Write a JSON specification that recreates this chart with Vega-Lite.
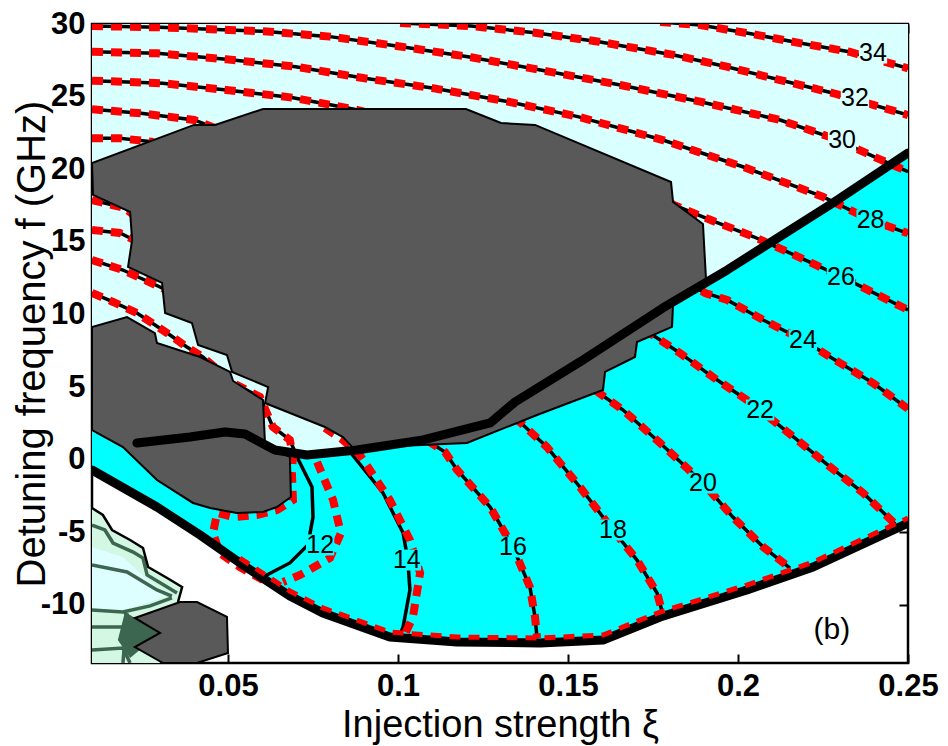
{
  "$schema": "https://vega.github.io/schema/vega-lite/v6.json",
  "width": 816,
  "height": 639,
  "autosize": "none",
  "padding": {"left": 92, "top": 24, "right": 40, "bottom": 83},
  "background": "white",
  "config": {"view": {"stroke": "black", "strokeWidth": 2.5}, "font": "Liberation Sans"},
  "datasets": {
    "polys": [
      {"id":"lc","i":0,"x":0.01,"y":30},{"id":"lc","i":1,"x":0.25,"y":30},{"id":"lc","i":2,"x":0.25,"y":-4.36},{"id":"lc","i":3,"x":0.2221,"y":-7.39},{"id":"lc","i":4,"x":0.2026,"y":-8.97},{"id":"lc","i":5,"x":0.1771,"y":-10.83},{"id":"lc","i":6,"x":0.1603,"y":-12.42},{"id":"lc","i":7,"x":0.1418,"y":-12.62},{"id":"lc","i":8,"x":0.1174,"y":-12.55},{"id":"lc","i":9,"x":0.0976,"y":-12.21},{"id":"lc","i":10,"x":0.0779,"y":-10.56},{"id":"lc","i":11,"x":0.0682,"y":-9.39},{"id":"lc","i":12,"x":0.0535,"y":-7.11},{"id":"lc","i":13,"x":0.0418,"y":-5.19},{"id":"lc","i":14,"x":0.0291,"y":-3.26},{"id":"lc","i":15,"x":0.01,"y":-0.71},
      {"id":"cy","i":0,"x":0.25,"y":21.12},{"id":"cy","i":1,"x":0.2279,"y":17.67},{"id":"cy","i":2,"x":0.1968,"y":13.06},{"id":"cy","i":3,"x":0.1779,"y":10.45},{"id":"cy","i":4,"x":0.1535,"y":6.73},{"id":"cy","i":5,"x":0.1344,"y":3.97},{"id":"cy","i":6,"x":0.1271,"y":2.53},{"id":"cy","i":7,"x":0.1074,"y":1.36},{"id":"cy","i":8,"x":0.0879,"y":0.67},{"id":"cy","i":9,"x":0.0732,"y":0.32},{"id":"cy","i":10,"x":0.0638,"y":0.67},{"id":"cy","i":11,"x":0.055,"y":1.77},{"id":"cy","i":12,"x":0.0491,"y":1.91},{"id":"cy","i":13,"x":0.0388,"y":1.56},{"id":"cy","i":14,"x":0.0232,"y":1.15},{"id":"cy","i":15,"x":0.01,"y":1.91},{"id":"cy","i":16,"x":0.01,"y":-0.71},{"id":"cy","i":17,"x":0.0291,"y":-3.26},{"id":"cy","i":18,"x":0.0418,"y":-5.19},{"id":"cy","i":19,"x":0.0535,"y":-7.11},{"id":"cy","i":20,"x":0.0682,"y":-9.39},{"id":"cy","i":21,"x":0.0779,"y":-10.56},{"id":"cy","i":22,"x":0.0976,"y":-12.21},{"id":"cy","i":23,"x":0.1174,"y":-12.55},{"id":"cy","i":24,"x":0.1418,"y":-12.62},{"id":"cy","i":25,"x":0.1603,"y":-12.42},{"id":"cy","i":26,"x":0.1771,"y":-10.83},{"id":"cy","i":27,"x":0.2026,"y":-8.97},{"id":"cy","i":28,"x":0.2221,"y":-7.39},{"id":"cy","i":29,"x":0.25,"y":-4.36},
      {"id":"mint","i":0,"x":0.01,"y":-3.33},{"id":"mint","i":1,"x":0.0132,"y":-3.81},{"id":"mint","i":2,"x":0.0159,"y":-4.84},{"id":"mint","i":3,"x":0.0212,"y":-5.53},{"id":"mint","i":4,"x":0.025,"y":-6.08},{"id":"mint","i":5,"x":0.0265,"y":-7.39},{"id":"mint","i":6,"x":0.0321,"y":-8.15},{"id":"mint","i":7,"x":0.0365,"y":-8.77},{"id":"mint","i":8,"x":0.0353,"y":-9.8},{"id":"mint","i":9,"x":0.0271,"y":-10.49},{"id":"mint","i":10,"x":0.03,"y":-14},{"id":"mint","i":11,"x":0.01,"y":-14},
      {"id":"minc","i":0,"x":0.01,"y":-6.01},{"id":"minc","i":1,"x":0.0191,"y":-6.7},{"id":"minc","i":2,"x":0.0241,"y":-7.8},{"id":"minc","i":3,"x":0.0291,"y":-8.77},{"id":"minc","i":4,"x":0.0335,"y":-9.25},{"id":"minc","i":5,"x":0.0262,"y":-9.87},{"id":"minc","i":6,"x":0.0191,"y":-10.35},{"id":"minc","i":7,"x":0.01,"y":-10.35},
      {"id":"dg","i":0,"x":0.0197,"y":-10.49},{"id":"dg","i":1,"x":0.03,"y":-11.93},{"id":"dg","i":2,"x":0.0212,"y":-13.66},{"id":"dg","i":3,"x":0.0176,"y":-12.42},
      {"id":"gs","i":0,"x":0.0226,"y":-10.9},{"id":"gs","i":1,"x":0.0359,"y":-9.8},{"id":"gs","i":2,"x":0.0409,"y":-9.8},{"id":"gs","i":3,"x":0.0497,"y":-10.83},{"id":"gs","i":4,"x":0.05,"y":-13.31},{"id":"gs","i":5,"x":0.0409,"y":-14},{"id":"gs","i":6,"x":0.0309,"y":-14},{"id":"gs","i":7,"x":0.0226,"y":-12.9},{"id":"gs","i":8,"x":0.03,"y":-11.93},
      {"id":"bb","i":0,"x":0.01,"y":20.43},{"id":"bb","i":1,"x":0.04,"y":23.05},{"id":"bb","i":2,"x":0.0462,"y":23.05},{"id":"bb","i":3,"x":0.0603,"y":24.15},{"id":"bb","i":4,"x":0.12,"y":24.15},{"id":"bb","i":5,"x":0.1303,"y":23.18},{"id":"bb","i":6,"x":0.1403,"y":23.05},{"id":"bb","i":7,"x":0.1803,"y":19.12},{"id":"bb","i":8,"x":0.1809,"y":17.74},{"id":"bb","i":9,"x":0.1897,"y":16.23},{"id":"bb","i":10,"x":0.1906,"y":12.37},{"id":"bb","i":11,"x":0.1809,"y":10.79},{"id":"bb","i":12,"x":0.1806,"y":9.14},{"id":"bb","i":13,"x":0.1703,"y":8.1},{"id":"bb","i":14,"x":0.1697,"y":7.07},{"id":"bb","i":15,"x":0.1609,"y":6.04},{"id":"bb","i":16,"x":0.1603,"y":4.8},{"id":"bb","i":17,"x":0.1409,"y":3.08},{"id":"bb","i":18,"x":0.1203,"y":1.15},{"id":"bb","i":19,"x":0.0868,"y":0.8},{"id":"bb","i":20,"x":0.0838,"y":1.56},{"id":"bb","i":21,"x":0.0785,"y":2.25},{"id":"bb","i":22,"x":0.0609,"y":3.9},{"id":"bb","i":23,"x":0.0618,"y":5.0},{"id":"bb","i":24,"x":0.0512,"y":6.04},{"id":"bb","i":25,"x":0.0497,"y":7.21},{"id":"bb","i":26,"x":0.0412,"y":7.9},{"id":"bb","i":27,"x":0.0394,"y":9.41},{"id":"bb","i":28,"x":0.0315,"y":10.1},{"id":"bb","i":29,"x":0.0306,"y":12.17},{"id":"bb","i":30,"x":0.0206,"y":13.27},{"id":"bb","i":31,"x":0.0218,"y":15.13},{"id":"bb","i":32,"x":0.0212,"y":17.06},{"id":"bb","i":33,"x":0.0103,"y":18.23},
      {"id":"lb","i":0,"x":0.01,"y":9.14},{"id":"lb","i":1,"x":0.0203,"y":9.82},{"id":"lb","i":2,"x":0.0285,"y":8.72},{"id":"lb","i":3,"x":0.0291,"y":8.03},{"id":"lb","i":4,"x":0.0418,"y":7.07},{"id":"lb","i":5,"x":0.0506,"y":6.04},{"id":"lb","i":6,"x":0.0515,"y":5.42},{"id":"lb","i":7,"x":0.0603,"y":4.11},{"id":"lb","i":8,"x":0.0609,"y":1.01},{"id":"lb","i":9,"x":0.0682,"y":0.19},{"id":"lb","i":10,"x":0.0685,"y":-2.57},{"id":"lb","i":11,"x":0.0644,"y":-3.26},{"id":"lb","i":12,"x":0.0603,"y":-3.6},{"id":"lb","i":13,"x":0.0526,"y":-3.67},{"id":"lb","i":14,"x":0.0447,"y":-3.33},{"id":"lb","i":15,"x":0.0397,"y":-2.98},{"id":"lb","i":16,"x":0.0291,"y":-1.4},{"id":"lb","i":17,"x":0.0191,"y":0.87},{"id":"lb","i":18,"x":0.01,"y":2.04}
    ],
    "lines": [
      {"id":"thick","i":0,"x":0.0232,"y":1.15},{"id":"thick","i":1,"x":0.0388,"y":1.56},{"id":"thick","i":2,"x":0.0491,"y":1.91},{"id":"thick","i":3,"x":0.055,"y":1.77},{"id":"thick","i":4,"x":0.0638,"y":0.67},{"id":"thick","i":5,"x":0.0732,"y":0.32},{"id":"thick","i":6,"x":0.0879,"y":0.67},{"id":"thick","i":7,"x":0.1074,"y":1.36},{"id":"thick","i":8,"x":0.1271,"y":2.53},{"id":"thick","i":9,"x":0.1344,"y":3.97},{"id":"thick","i":10,"x":0.1535,"y":6.73},{"id":"thick","i":11,"x":0.1779,"y":10.45},{"id":"thick","i":12,"x":0.1968,"y":13.06},{"id":"thick","i":13,"x":0.2279,"y":17.67},{"id":"thick","i":14,"x":0.25,"y":21.12},
      {"id":"low","i":0,"x":0.01,"y":-0.71},{"id":"low","i":1,"x":0.0291,"y":-3.26},{"id":"low","i":2,"x":0.0418,"y":-5.19},{"id":"low","i":3,"x":0.0535,"y":-7.11},{"id":"low","i":4,"x":0.0682,"y":-9.39},{"id":"low","i":5,"x":0.0779,"y":-10.56},{"id":"low","i":6,"x":0.0976,"y":-12.21},{"id":"low","i":7,"x":0.1174,"y":-12.55},{"id":"low","i":8,"x":0.1418,"y":-12.62},{"id":"low","i":9,"x":0.1603,"y":-12.42},{"id":"low","i":10,"x":0.1771,"y":-10.83},{"id":"low","i":11,"x":0.2026,"y":-8.97},{"id":"low","i":12,"x":0.2221,"y":-7.39},{"id":"low","i":13,"x":0.25,"y":-4.36},
      {"id":"lowr","i":0,"x":0.0535,"y":-6.77},{"id":"lowr","i":1,"x":0.0682,"y":-9.04},{"id":"lowr","i":2,"x":0.0779,"y":-10.21},{"id":"lowr","i":3,"x":0.0976,"y":-11.87},{"id":"lowr","i":4,"x":0.1174,"y":-12.21},{"id":"lowr","i":5,"x":0.1418,"y":-12.28},{"id":"lowr","i":6,"x":0.1603,"y":-12.07},{"id":"lowr","i":7,"x":0.1771,"y":-10.49},{"id":"lowr","i":8,"x":0.2026,"y":-8.63},{"id":"lowr","i":9,"x":0.2221,"y":-7.05},{"id":"lowr","i":10,"x":0.25,"y":-4.02},
      {"id":"mo","i":0,"x":0.01,"y":-3.33},{"id":"mo","i":1,"x":0.0132,"y":-3.81},{"id":"mo","i":2,"x":0.0159,"y":-4.84},{"id":"mo","i":3,"x":0.0212,"y":-5.53},{"id":"mo","i":4,"x":0.025,"y":-6.08},{"id":"mo","i":5,"x":0.0265,"y":-7.39},{"id":"mo","i":6,"x":0.0321,"y":-8.15},{"id":"mo","i":7,"x":0.0365,"y":-8.77},{"id":"mo","i":8,"x":0.0353,"y":-9.8},
      {"id":"g1","i":0,"x":0.01,"y":-4.5},{"id":"g1","i":1,"x":0.0138,"y":-4.84},{"id":"g1","i":2,"x":0.0162,"y":-5.74},{"id":"g1","i":3,"x":0.0221,"y":-6.36},{"id":"g1","i":4,"x":0.025,"y":-6.77},{"id":"g1","i":5,"x":0.0262,"y":-7.94},{"id":"g1","i":6,"x":0.0321,"y":-8.77},{"id":"g1","i":7,"x":0.035,"y":-9.18},
      {"id":"g2","i":0,"x":0.01,"y":-7.25},{"id":"g2","i":1,"x":0.0203,"y":-7.73},{"id":"g2","i":2,"x":0.0291,"y":-8.97},{"id":"g2","i":3,"x":0.0335,"y":-9.4},
      {"id":"g3","i":0,"x":0.01,"y":-10.35},{"id":"g3","i":1,"x":0.0191,"y":-10.49},{"id":"g3","i":2,"x":0.0271,"y":-10.07},{"id":"g3","i":3,"x":0.0335,"y":-9.52},
      {"id":"g4","i":0,"x":0.01,"y":-11.52},{"id":"g4","i":1,"x":0.0212,"y":-11.52},{"id":"g4","i":2,"x":0.0197,"y":-10.49},
      {"id":"g5","i":0,"x":0.01,"y":-13.11},{"id":"g5","i":1,"x":0.0191,"y":-12.97},{"id":"g5","i":2,"x":0.0212,"y":-14},
      {"id":"g6","i":0,"x":0.0203,"y":-10.56},{"id":"g6","i":1,"x":0.0191,"y":-14}
    ],
    "contours": [
      {"id":"c34","i":0,"x":0.1771,"y":30.14},{"id":"c34","i":1,"x":0.1889,"y":29.93},{"id":"c34","i":2,"x":0.203,"y":29.36},{"id":"c34","i":3,"x":0.2186,"y":28.67},{"id":"c34","i":4,"x":0.2327,"y":28.09},{"id":"c34","i":5,"x":0.25,"y":26.95},
      {"id":"c32","i":0,"x":0.1006,"y":30.07},{"id":"c32","i":1,"x":0.1215,"y":29.86},{"id":"c32","i":2,"x":0.1403,"y":29.4},{"id":"c32","i":3,"x":0.1591,"y":28.78},{"id":"c32","i":4,"x":0.1811,"y":27.87},{"id":"c32","i":5,"x":0.1967,"y":27.06},{"id":"c32","i":6,"x":0.2124,"y":26.14},{"id":"c32","i":7,"x":0.2281,"y":25.23},{"id":"c32","i":8,"x":0.25,"y":23.73},
      {"id":"c30","i":0,"x":0.01,"y":29.86},{"id":"c30","i":1,"x":0.0299,"y":29.77},{"id":"c30","i":2,"x":0.0503,"y":29.59},{"id":"c30","i":3,"x":0.0604,"y":29.5},{"id":"c30","i":4,"x":0.08,"y":29.13},{"id":"c30","i":5,"x":0.0996,"y":28.49},{"id":"c30","i":6,"x":0.1215,"y":27.71},{"id":"c30","i":7,"x":0.1419,"y":26.83},{"id":"c30","i":8,"x":0.1654,"y":25.8},{"id":"c30","i":9,"x":0.1889,"y":24.65},{"id":"c30","i":10,"x":0.2124,"y":23.39},{"id":"c30","i":11,"x":0.2281,"y":22.13},{"id":"c30","i":12,"x":0.2421,"y":20.64},{"id":"c30","i":13,"x":0.25,"y":19.83},
      {"id":"c28","i":0,"x":0.01,"y":28.09},{"id":"c28","i":1,"x":0.0291,"y":27.98},{"id":"c28","i":2,"x":0.0495,"y":27.57},{"id":"c28","i":3,"x":0.0699,"y":27.06},{"id":"c28","i":4,"x":0.0902,"y":26.26},{"id":"c28","i":5,"x":0.1106,"y":25.57},{"id":"c28","i":6,"x":0.1325,"y":24.65},{"id":"c28","i":7,"x":0.1529,"y":23.62},{"id":"c28","i":8,"x":0.1779,"y":22.01},{"id":"c28","i":9,"x":0.2014,"y":20.17},{"id":"c28","i":10,"x":0.2249,"y":18.11},{"id":"c28","i":11,"x":0.239,"y":16.5},{"id":"c28","i":12,"x":0.25,"y":15.59},
      {"id":"c26a","i":0,"x":0.01,"y":26.1},{"id":"c26a","i":1,"x":0.0307,"y":25.92},{"id":"c26a","i":2,"x":0.0495,"y":25.46},{"id":"c26a","i":3,"x":0.0683,"y":24.95},{"id":"c26a","i":4,"x":0.0871,"y":24.13},{"id":"c26a","i":5,"x":0.0976,"y":23.53},
      {"id":"c26b","i":0,"x":0.1756,"y":18.43},{"id":"c26b","i":1,"x":0.1811,"y":17.54},{"id":"c26b","i":2,"x":0.192,"y":16.5},{"id":"c26b","i":3,"x":0.2046,"y":15.35},{"id":"c26b","i":4,"x":0.2155,"y":14.21},{"id":"c26b","i":5,"x":0.2304,"y":12.6},{"id":"c26b","i":6,"x":0.25,"y":10.31},
      {"id":"c24a","i":0,"x":0.01,"y":24.13},{"id":"c24a","i":1,"x":0.0244,"y":23.85},{"id":"c24a","i":2,"x":0.0401,"y":23.39},{"id":"c24a","i":3,"x":0.0491,"y":22.56},
      {"id":"c24b","i":0,"x":0.1844,"y":12.24},{"id":"c24b","i":1,"x":0.1905,"y":11.46},{"id":"c24b","i":2,"x":0.1968,"y":11.0},{"id":"c24b","i":3,"x":0.2074,"y":9.62},{"id":"c24b","i":4,"x":0.2191,"y":8.24},{"id":"c24b","i":5,"x":0.2271,"y":7.07},{"id":"c24b","i":6,"x":0.2397,"y":5.28},{"id":"c24b","i":7,"x":0.25,"y":3.5},
      {"id":"c22a","i":0,"x":0.01,"y":22.13},{"id":"c22a","i":1,"x":0.0181,"y":22.13},{"id":"c22a","i":2,"x":0.0275,"y":21.9},{"id":"c22a","i":3,"x":0.0315,"y":21.46},
      {"id":"c22b","i":0,"x":0.1726,"y":8.93},{"id":"c22b","i":1,"x":0.1771,"y":8.24},{"id":"c22b","i":2,"x":0.1829,"y":7.35},{"id":"c22b","i":3,"x":0.1926,"y":5.69},{"id":"c22b","i":4,"x":0.2026,"y":4.11},{"id":"c22b","i":5,"x":0.2065,"y":3.42},{"id":"c22b","i":6,"x":0.2174,"y":1.36},{"id":"c22b","i":7,"x":0.2271,"y":-0.5},{"id":"c22b","i":8,"x":0.2368,"y":-2.29},{"id":"c22b","i":9,"x":0.2462,"y":-4.43},
      {"id":"c20","i":0,"x":0.1535,"y":5.49},{"id":"c20","i":1,"x":0.1579,"y":4.8},{"id":"c20","i":2,"x":0.1662,"y":3.42},{"id":"c20","i":3,"x":0.1771,"y":1.15},{"id":"c20","i":4,"x":0.1897,"y":-1.61},{"id":"c20","i":5,"x":0.1985,"y":-3.95},{"id":"c20","i":6,"x":0.2074,"y":-6.01},{"id":"c20","i":7,"x":0.2153,"y":-7.46},
      {"id":"c18","i":0,"x":0.1344,"y":2.87},{"id":"c18","i":1,"x":0.1368,"y":2.39},{"id":"c18","i":2,"x":0.1438,"y":0.87},{"id":"c18","i":3,"x":0.1535,"y":-1.88},{"id":"c18","i":4,"x":0.1632,"y":-4.84},{"id":"c18","i":5,"x":0.1703,"y":-6.91},{"id":"c18","i":6,"x":0.1762,"y":-9.18},{"id":"c18","i":7,"x":0.1782,"y":-10.9},
      {"id":"c16","i":0,"x":0.1088,"y":1.29},{"id":"c16","i":1,"x":0.1138,"y":0.53},{"id":"c16","i":2,"x":0.1174,"y":-0.71},{"id":"c16","i":3,"x":0.1271,"y":-3.26},{"id":"c16","i":4,"x":0.1338,"y":-6.01},{"id":"c16","i":5,"x":0.1388,"y":-8.77},{"id":"c16","i":6,"x":0.1403,"y":-10.83},{"id":"c16","i":7,"x":0.1409,"y":-12.28},
      {"id":"c14k","i":0,"x":0.0859,"y":0.53},{"id":"c14k","i":1,"x":0.0956,"y":-2.29},{"id":"c14k","i":2,"x":0.1015,"y":-5.05},{"id":"c14k","i":3,"x":0.1029,"y":-6.91},{"id":"c14k","i":4,"x":0.1035,"y":-8.97},{"id":"c14k","i":5,"x":0.1015,"y":-11.52},{"id":"c14k","i":6,"x":0.1,"y":-12.42},
      {"id":"c14r","i":0,"x":0.0785,"y":2.18},{"id":"c14r","i":1,"x":0.0838,"y":1.36},{"id":"c14r","i":2,"x":0.0888,"y":0.32},{"id":"c14r","i":3,"x":0.0976,"y":-2.78},{"id":"c14r","i":4,"x":0.1035,"y":-5.53},{"id":"c14r","i":5,"x":0.1065,"y":-7.8},{"id":"c14r","i":6,"x":0.1044,"y":-10.83},{"id":"c14r","i":7,"x":0.1015,"y":-12.28},
      {"id":"c12k","i":0,"x":0.01,"y":11.48},{"id":"c12k","i":1,"x":0.0162,"y":10.86},{"id":"c12k","i":2,"x":0.0232,"y":10.1},{"id":"c12k","i":3,"x":0.0321,"y":8.72},{"id":"c12k","i":4,"x":0.0379,"y":7.76},{"id":"c12k","i":5,"x":0.0426,"y":7.07},{"id":"c12k","i":6,"x":0.0515,"y":5.28},{"id":"c12k","i":7,"x":0.0594,"y":4.32},{"id":"c12k","i":8,"x":0.0632,"y":2.25},{"id":"c12k","i":9,"x":0.0682,"y":1.36},{"id":"c12k","i":10,"x":0.0703,"y":0.19},{"id":"c12k","i":11,"x":0.0747,"y":-1.88},{"id":"c12k","i":12,"x":0.075,"y":-3.95},{"id":"c12k","i":13,"x":0.0735,"y":-5.87},{"id":"c12k","i":14,"x":0.0682,"y":-7.11},{"id":"c12k","i":15,"x":0.0603,"y":-8.08},
      {"id":"c12ra","i":0,"x":0.01,"y":11.48},{"id":"c12ra","i":1,"x":0.0162,"y":10.86},{"id":"c12ra","i":2,"x":0.0232,"y":10.1},{"id":"c12ra","i":3,"x":0.0321,"y":8.72},{"id":"c12ra","i":4,"x":0.0379,"y":7.76},{"id":"c12ra","i":5,"x":0.0426,"y":7.07},{"id":"c12ra","i":6,"x":0.0515,"y":5.28},{"id":"c12ra","i":7,"x":0.0594,"y":4.32},{"id":"c12ra","i":8,"x":0.0632,"y":2.25},{"id":"c12ra","i":9,"x":0.0682,"y":1.36},{"id":"c12ra","i":10,"x":0.0691,"y":0.19},{"id":"c12ra","i":11,"x":0.0688,"y":-0.92},{"id":"c12ra","i":12,"x":0.0691,"y":-2.78},{"id":"c12ra","i":13,"x":0.0644,"y":-3.47},{"id":"c12ra","i":14,"x":0.0585,"y":-3.81},{"id":"c12ra","i":15,"x":0.0515,"y":-3.95},{"id":"c12ra","i":16,"x":0.0468,"y":-3.67},{"id":"c12ra","i":17,"x":0.0456,"y":-5.05},{"id":"c12ra","i":18,"x":0.0476,"y":-6.43},{"id":"c12ra","i":19,"x":0.0535,"y":-7.39},{"id":"c12ra","i":20,"x":0.0603,"y":-8.29},
      {"id":"c12rb","i":0,"x":0.0762,"y":-0.16},{"id":"c12rb","i":1,"x":0.0809,"y":-2.78},{"id":"c12rb","i":2,"x":0.0832,"y":-5.05},{"id":"c12rb","i":3,"x":0.08,"y":-6.77},{"id":"c12rb","i":4,"x":0.0712,"y":-7.94},{"id":"c12rb","i":5,"x":0.0662,"y":-8.42},
      {"id":"p18","i":0,"x":0.01,"y":17.88},{"id":"p18","i":1,"x":0.0197,"y":17.33},{"id":"p18","i":2,"x":0.0218,"y":16.92},
      {"id":"p16","i":0,"x":0.01,"y":15.82},{"id":"p16","i":1,"x":0.0182,"y":15.61},{"id":"p16","i":2,"x":0.0224,"y":15.13},
      {"id":"p14","i":0,"x":0.01,"y":13.75},{"id":"p14","i":1,"x":0.0191,"y":13.06},{"id":"p14","i":2,"x":0.03,"y":11.89},{"id":"p14","i":3,"x":0.0329,"y":11.55}
    ],
    "labels": [
      {"t":"12","x":0.0771,"y":-5.87},{"t":"14","x":0.1026,"y":-6.91},{"t":"16","x":0.1338,"y":-6.01},{"t":"18","x":0.1632,"y":-4.84},{"t":"20","x":0.1897,"y":-1.61},{"t":"22","x":0.2065,"y":3.42},{"t":"24","x":0.2191,"y":8.24},{"t":"26","x":0.2303,"y":12.58},{"t":"28","x":0.239,"y":16.5},{"t":"30","x":0.2306,"y":22.01},{"t":"32","x":0.2344,"y":24.91},{"t":"34","x":0.2397,"y":28.0}
    ]
  },
  "resolve": {"axis": {"x": "independent", "y": "independent"}},
  "layer": [
    {
      "data": {"name": "polys"},
      "transform": [{"filter": {"field": "id", "equal": "lc"}}],
      "mark": {"type": "line", "interpolate": "linear-closed", "fill": "#D9FFFF", "strokeWidth": 0, "clip": true},
      "encoding": {
        "x": {"field": "x", "type": "quantitative", "scale": {"domain": [0.01, 0.25], "nice": false, "zero": false},
          "axis": {"orient": "bottom", "values": [0.05, 0.1, 0.15, 0.2, 0.25], "labelExpr": "'' + datum.value", "labelFontSize": 31, "labelFontWeight": "bold", "labelColor": "black", "labelFont": "Liberation Sans", "labelFlush": false, "labelPadding": 17, "tickSize": -9, "tickWidth": 2, "tickColor": "black", "domain": false, "grid": false, "title": "Injection strength ξ", "titleFontSize": 38, "titleFontWeight": "normal", "titleFont": "Liberation Sans", "titleColor": "black", "titleY": 73, "titleBaseline": "alphabetic"}},
        "y": {"field": "y", "type": "quantitative", "scale": {"domain": [-14, 30], "nice": false, "zero": false},
          "axis": {"orient": "left", "values": [-10, -5, 0, 5, 10, 15, 20, 25, 30], "labelExpr": "'' + datum.value", "labelFontSize": 31, "labelFontWeight": "bold", "labelColor": "black", "labelFont": "Liberation Sans", "labelFlush": false, "labelPadding": 16, "tickSize": -9, "tickWidth": 2, "tickColor": "black", "domain": false, "grid": false, "title": "Detuning frequency f (GHz)", "titleFontSize": 40, "titleFontWeight": "normal", "titleFont": "Liberation Sans", "titleColor": "black", "titleX": -48, "titleBaseline": "alphabetic"}},
        "order": {"field": "i"},
        "detail": {"field": "id"}
      }
    },
    {
      "data": {"name": "polys"},
      "transform": [{"filter": {"field": "id", "equal": "cy"}}],
      "mark": {"type": "line", "interpolate": "linear-closed", "fill": "#00FFFF", "strokeWidth": 0, "clip": true},
      "encoding": {
        "x": {"field": "x", "type": "quantitative", "axis": {"orient": "top", "values": [0.05, 0.1, 0.15, 0.2, 0.25], "labels": false, "tickSize": -9, "tickWidth": 2, "tickColor": "black", "domain": false, "grid": false, "title": null}},
        "y": {"field": "y", "type": "quantitative", "axis": {"orient": "right", "values": [-10, -5, 0, 5, 10, 15, 20, 25, 30], "labels": false, "tickSize": -9, "tickWidth": 2, "tickColor": "black", "domain": false, "grid": false, "title": null}},
        "order": {"field": "i"},
        "detail": {"field": "id"}
      }
    },
    {
      "data": {"name": "polys"},
      "transform": [{"filter": {"field": "id", "equal": "mint"}}],
      "mark": {"type": "line", "interpolate": "linear-closed", "fill": "#D2F7E2", "strokeWidth": 0, "clip": true},
      "encoding": {"x": {"field": "x", "type": "quantitative", "axis": null}, "y": {"field": "y", "type": "quantitative", "axis": null}, "order": {"field": "i"}, "detail": {"field": "id"}}
    },
    {
      "data": {"name": "polys"},
      "transform": [{"filter": {"field": "id", "equal": "minc"}}],
      "mark": {"type": "line", "interpolate": "linear-closed", "fill": "#DDFFFF", "strokeWidth": 0, "clip": true},
      "encoding": {"x": {"field": "x", "type": "quantitative", "axis": null}, "y": {"field": "y", "type": "quantitative", "axis": null}, "order": {"field": "i"}, "detail": {"field": "id"}}
    },
    {
      "data": {"name": "polys"},
      "transform": [{"filter": {"field": "id", "equal": "dg"}}],
      "mark": {"type": "line", "interpolate": "linear-closed", "fill": "#3D6650", "strokeWidth": 0, "clip": true},
      "encoding": {"x": {"field": "x", "type": "quantitative", "axis": null}, "y": {"field": "y", "type": "quantitative", "axis": null}, "order": {"field": "i"}, "detail": {"field": "id"}}
    },
    {
      "data": {"name": "lines"},
      "transform": [{"filter": {"field": "id", "oneOf": ["g1", "g2", "g3", "g4", "g5", "g6"]}}],
      "mark": {"type": "line", "color": "#3D6650", "strokeWidth": 3.5, "clip": true},
      "encoding": {"x": {"field": "x", "type": "quantitative", "axis": null}, "y": {"field": "y", "type": "quantitative", "axis": null}, "order": {"field": "i"}, "detail": {"field": "id"}}
    },
    {
      "data": {"name": "lines"},
      "transform": [{"filter": {"field": "id", "equal": "mo"}}],
      "mark": {"type": "line", "color": "black", "strokeWidth": 2.5, "clip": true},
      "encoding": {"x": {"field": "x", "type": "quantitative", "axis": null}, "y": {"field": "y", "type": "quantitative", "axis": null}, "order": {"field": "i"}, "detail": {"field": "id"}}
    },
    {
      "data": {"name": "contours"},
      "transform": [{"filter": {"not": {"field": "id", "oneOf": ["c14r", "c12ra", "c12rb"]}}}],
      "mark": {"type": "line", "color": "black", "strokeWidth": 3.5, "clip": true},
      "encoding": {"x": {"field": "x", "type": "quantitative", "axis": null}, "y": {"field": "y", "type": "quantitative", "axis": null}, "order": {"field": "i"}, "detail": {"field": "id"}}
    },
    {
      "data": {"name": "contours"},
      "transform": [{"filter": {"not": {"field": "id", "oneOf": ["c14k", "c12k"]}}}],
      "mark": {"type": "line", "color": "#FF0000", "strokeWidth": 8, "strokeDash": [11, 8], "clip": true},
      "encoding": {"x": {"field": "x", "type": "quantitative", "axis": null}, "y": {"field": "y", "type": "quantitative", "axis": null}, "order": {"field": "i"}, "detail": {"field": "id"}}
    },
    {
      "data": {"name": "polys"},
      "transform": [{"filter": {"field": "id", "oneOf": ["bb", "lb", "gs"]}}],
      "mark": {"type": "line", "interpolate": "linear-closed", "fill": "#595959", "color": "black", "strokeWidth": 2, "clip": true},
      "encoding": {"x": {"field": "x", "type": "quantitative", "axis": null}, "y": {"field": "y", "type": "quantitative", "axis": null}, "order": {"field": "i"}, "detail": {"field": "id"}}
    },
    {
      "data": {"name": "lines"},
      "transform": [{"filter": {"field": "id", "oneOf": ["thick", "low"]}}],
      "mark": {"type": "line", "color": "black", "strokeWidth": 9, "strokeCap": "round", "strokeJoin": "round", "clip": true},
      "encoding": {"x": {"field": "x", "type": "quantitative", "axis": null}, "y": {"field": "y", "type": "quantitative", "axis": null}, "order": {"field": "i"}, "detail": {"field": "id"}}
    },
    {
      "data": {"name": "lines"},
      "transform": [{"filter": {"field": "id", "equal": "lowr"}}],
      "mark": {"type": "line", "color": "#FF0000", "strokeWidth": 5, "strokeDash": [11, 8], "clip": true},
      "encoding": {"x": {"field": "x", "type": "quantitative", "axis": null}, "y": {"field": "y", "type": "quantitative", "axis": null}, "order": {"field": "i"}, "detail": {"field": "id"}}
    },
    {
      "data": {"name": "labels"},
      "transform": [{"filter": {"field": "t", "oneOf": ["30", "32", "34"]}}],
      "mark": {"type": "point", "shape": "M-1.35,-1L1.35,-1L1.35,1L-1.35,1Z", "size": 440, "filled": true, "opacity": 1, "color": "#D9FFFF", "strokeWidth": 0},
      "encoding": {"x": {"field": "x", "type": "quantitative", "axis": null}, "y": {"field": "y", "type": "quantitative", "axis": null}}
    },
    {
      "data": {"name": "labels"},
      "transform": [{"filter": {"not": {"field": "t", "oneOf": ["30", "32", "34"]}}}],
      "mark": {"type": "point", "shape": "M-1.35,-1L1.35,-1L1.35,1L-1.35,1Z", "size": 440, "filled": true, "opacity": 1, "color": "#00FFFF", "strokeWidth": 0},
      "encoding": {"x": {"field": "x", "type": "quantitative", "axis": null}, "y": {"field": "y", "type": "quantitative", "axis": null}}
    },
    {
      "data": {"name": "labels"},
      "mark": {"type": "text", "fontSize": 25, "font": "Liberation Sans", "color": "black", "align": "center", "baseline": "middle"},
      "encoding": {"x": {"field": "x", "type": "quantitative", "axis": null}, "y": {"field": "y", "type": "quantitative", "axis": null}, "text": {"field": "t"}}
    },
    {
      "data": {"values": [{"t": "(b)", "x": 0.2276, "y": -11.73}]},
      "mark": {"type": "text", "fontSize": 30, "font": "Liberation Sans", "color": "black", "align": "center", "baseline": "middle"},
      "encoding": {"x": {"field": "x", "type": "quantitative", "axis": null}, "y": {"field": "y", "type": "quantitative", "axis": null}, "text": {"field": "t"}}
    }
  ]
}
